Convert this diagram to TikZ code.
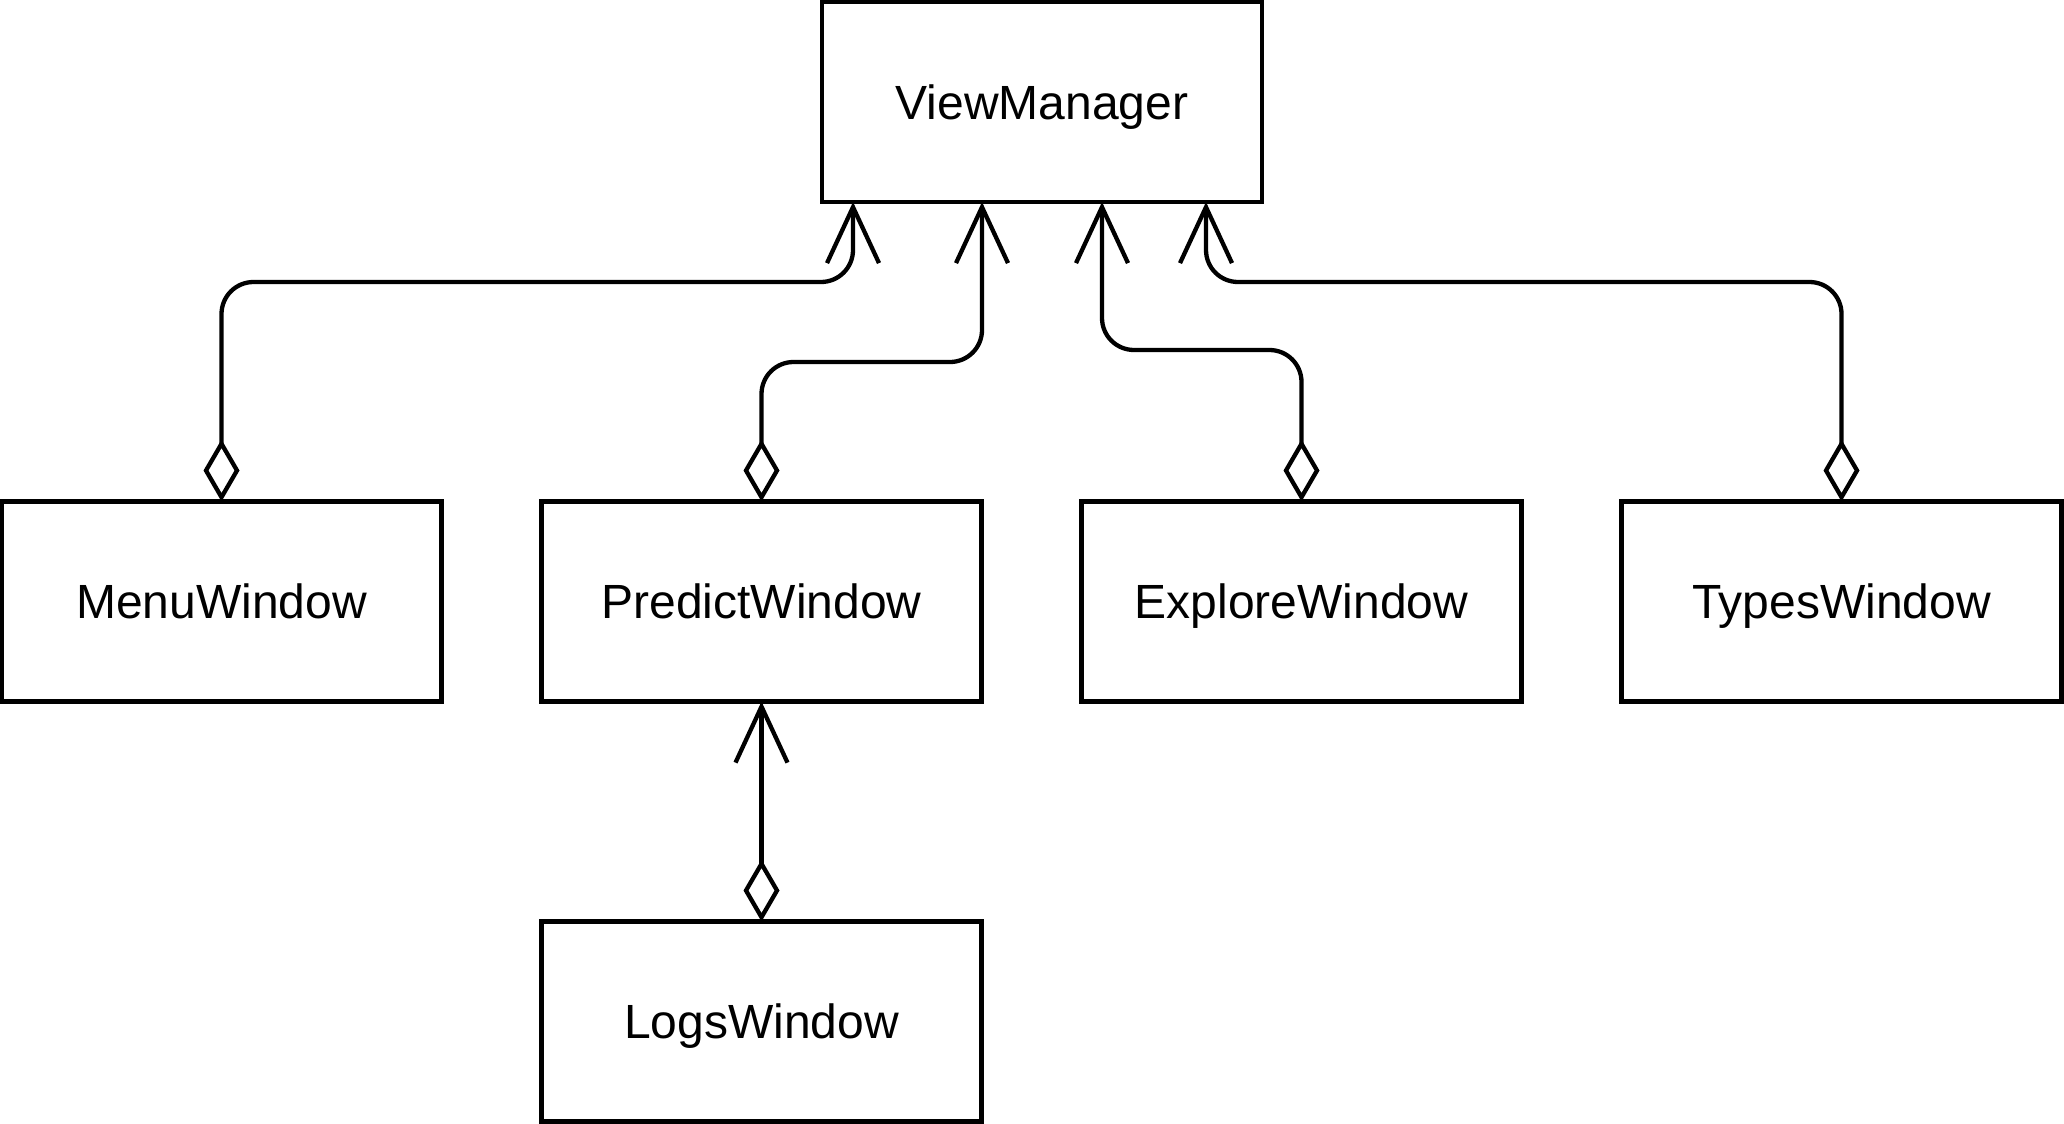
\documentclass[tikz,border=0pt]{standalone}
\usepackage{fontspec}
\setmainfont{Liberation Sans}
\usetikzlibrary{arrows.meta,calc}
\begin{document}
\begin{tikzpicture}[x=1pt,y=-1pt,
  box/.style={draw,line width=4.8pt,minimum width=440pt,minimum height=200pt,outer sep=0pt,inner sep=0pt,text height=34pt,text depth=0pt,font=\fontsize{48}{58}\selectfont},
  agg/.style={line width=4.3pt,rounded corners=32pt,
    {Diamond[open,length=62pt,width=36pt,line width=4.3pt]}-{Straight Barb[length=56pt,width=52pt,line width=4.3pt]}}]
\useasboundingbox (0,0) rectangle (2064,1124);
\node[box] (vm) at (1042,102) {ViewManager};
\node[box] (menu) at (221.5,601.5) {MenuWindow};
\node[box] (predict) at (761.5,601.5) {PredictWindow};
\node[box] (explore) at (1301.5,601.5) {ExploreWindow};
\node[box] (types) at (1841.5,601.5) {TypesWindow};
\node[box] (logs) at (761.5,1021.5) {LogsWindow};
\coordinate (m1) at ($(vm.south west)+(31,0)$);
\coordinate (m2) at ($(vm.south west)+(160,0)$);
\coordinate (m3) at ($(vm.south west)+(280,0)$);
\coordinate (m4) at ($(vm.south west)+(384,0)$);
\draw[agg] (menu.north) |- ($(m1)+(0,80)$) -- (m1);
\draw[agg] (predict.north) |- ($(m2)+(0,160)$) -- (m2);
\draw[agg] (explore.north) |- ($(m3)+(0,148)$) -- (m3);
\draw[agg] (types.north) |- ($(m4)+(0,80)$) -- (m4);
\draw[agg] (logs.north) -- (predict.south);
\end{tikzpicture}
\end{document}
